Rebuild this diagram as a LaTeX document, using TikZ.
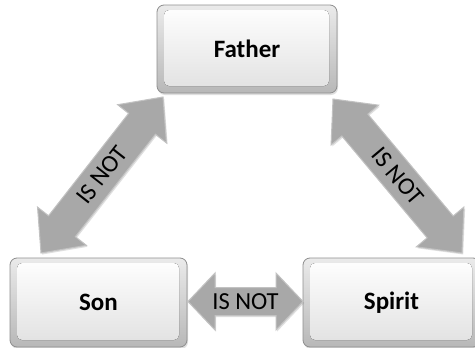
\documentclass[tikz,border=0pt]{standalone}
\usepackage{fontspec}
\setmainfont{Carlito}
\usetikzlibrary{calc,shadows}
\definecolor{boxedge}{HTML}{8E8E8E}
\definecolor{arrowgray}{HTML}{A8A8A8}
\definecolor{arrowedge}{HTML}{C2C2C2}
\tikzset{
  bevelbox/.style={draw=boxedge, line width=0.8pt, rounded corners=7pt,
    top color=white!92!black, bottom color=white!72!black,
    drop shadow={opacity=0.25, shadow xshift=1pt, shadow yshift=-2pt},
    font=\fontsize{25}{29}\selectfont\bfseries, text=black,
    path picture={
      \fill[rounded corners=5pt, top color=white, bottom color=white!88!black]
        ([shift={(7pt,-5pt)}]path picture bounding box.north west)
        rectangle ([shift={(-8pt,7pt)}]path picture bounding box.south east);
    }},
  arrowbody/.style={fill=arrowgray, draw=arrowedge, line width=1pt, line join=miter,
    drop shadow={opacity=0.25, shadow xshift=1.2pt, shadow yshift=-1.5pt}},
  arrowtext/.style={font=\fontsize{24.5}{28}\selectfont, text=black, inner sep=0pt}
}
\newcommand\blkarrow[5]{%
  \coordinate (ha) at ($(#1)!#3!(#2)$);
  \coordinate (hb) at ($(#2)!#3!(#1)$);
  \path[arrowbody] (#1) -- ($(ha)!#4!90:(#2)$) -- ($(ha)!#5!90:(#2)$)
    -- ($(hb)!#5!-90:(#1)$) -- ($(hb)!#4!-90:(#1)$) -- (#2)
    -- ($(hb)!#4!90:(#1)$) -- ($(hb)!#5!90:(#1)$)
    -- ($(ha)!#5!-90:(#2)$) -- ($(ha)!#4!-90:(#2)$) -- cycle;
}
\begin{document}
\begin{tikzpicture}[x=1pt,y=-1pt]
\useasboundingbox[fill=white] (0,0) rectangle (475,348);
% boxes
\node[bevelbox, minimum width=180pt, minimum height=88pt] (father) at (247,49) {Father};
\node[bevelbox, minimum width=177pt, minimum height=89pt] (son) at (98.5,302.5) {Son};
\node[bevelbox, minimum width=177pt, minimum height=89pt] (spirit) at (391.5,302.5) {Spirit};
% arrow end points
\coordinate (ls) at (41,253);
\coordinate (lf) at (163,97);
\coordinate (rf) at (333,99);
\coordinate (rs) at (462,253);
\coordinate (hs) at (188,301.5);
\coordinate (hp) at (303,301.5);
% arrows
\blkarrow{ls}{lf}{34pt}{31pt}{17pt}
\blkarrow{rf}{rs}{34pt}{31pt}{17pt}
\blkarrow{hs}{hp}{27pt}{28.5pt}{14pt}
\node[arrowtext, rotate=51.97] (t1) at ($(ls)!.5!(lf)$) {IS NOT};
\node[arrowtext, rotate=-49.94] (t2) at ($(rf)!.5!(rs)$) {IS NOT};
\node[arrowtext] (t3) at ($(hs)!.5!(hp)$) {IS NOT};
\end{tikzpicture}
\end{document}
